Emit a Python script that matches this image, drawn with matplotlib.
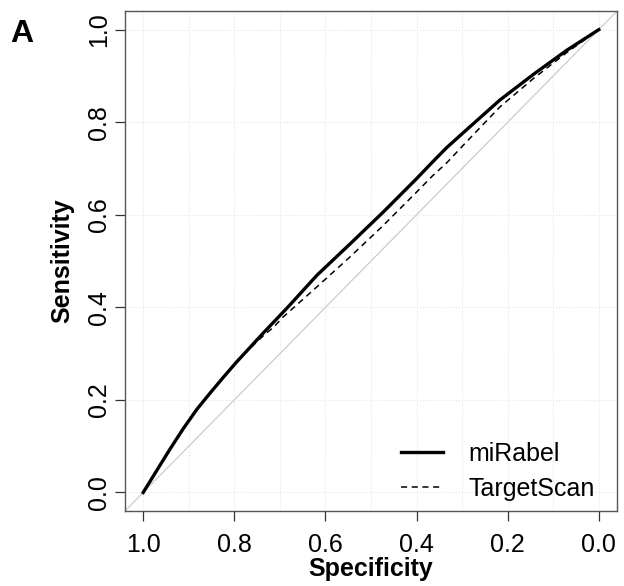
import matplotlib
matplotlib.use("Agg")
import matplotlib.pyplot as plt

plt.rcParams['font.family'] = ['Liberation Sans', 'DejaVu Sans']

# ROC curves (specificity, sensitivity)
mirabel_spec = [1.0, 0.970, 0.941, 0.912, 0.882, 0.853, 0.824, 0.795, 0.765, 0.736, 0.707, 0.681, 0.619,
                0.546, 0.473, 0.400, 0.364, 0.334, 0.291, 0.217, 0.144, 0.071, 0.0]
mirabel_sens = [0.0, 0.048, 0.094, 0.138, 0.180, 0.215, 0.249, 0.282, 0.314, 0.345, 0.375, 0.402, 0.469,
                0.537, 0.606, 0.678, 0.715, 0.745, 0.783, 0.848, 0.903, 0.955, 1.0]

targetscan_spec = [1.0, 0.970, 0.941, 0.912, 0.882, 0.853, 0.824, 0.795, 0.765, 0.736, 0.714, 0.693, 0.619,
                   0.546, 0.473, 0.400, 0.364, 0.334, 0.291, 0.217, 0.144, 0.071, 0.0]
targetscan_sens = [0.0, 0.048, 0.094, 0.138, 0.180, 0.215, 0.249, 0.282, 0.312, 0.339, 0.357, 0.379, 0.444,
                   0.509, 0.577, 0.649, 0.685, 0.712, 0.757, 0.833, 0.894, 0.950, 1.0]

ticks = [1.0, 0.8, 0.6, 0.4, 0.2, 0.0]
tick_labels = ["1.0", "0.8", "0.6", "0.4", "0.2", "0.0"]

fig = plt.figure(figsize=(6.24, 5.86), dpi=100)
ax = fig.add_axes([0.2003, 0.128, 0.7885, 0.853])

# grid: every 0.1 vertically, every 0.2 horizontally
for v in [i / 10 for i in range(11)]:
    ax.axvline(v, color="#e6e6e6", lw=0.8, ls=(0, (1, 1.5)), zorder=0)
for h in [i / 5 for i in range(6)]:
    ax.axhline(h, color="#e6e6e6", lw=0.8, ls=(0, (1, 1.5)), zorder=0)

ax.axline((1.0, 0.0), (0.0, 1.0), color="#cccccc", lw=0.9, zorder=1)

ax.plot(targetscan_spec, targetscan_sens, color="black", lw=1.1, ls=(0, (4, 3)), label="TargetScan", zorder=2)
ax.plot(mirabel_spec, mirabel_sens, color="black", lw=2.4, label="miRabel", zorder=3)

ax.set_xlim(1.04, -0.04)
ax.set_ylim(-0.04, 1.04)
ax.set_xticks(ticks)
ax.set_xticklabels(tick_labels)
ax.set_yticks(ticks)
ax.set_yticklabels(tick_labels, rotation=90, va="center")
ax.tick_params(axis="both", labelsize=18, length=7, width=0.9, color="#333333")
ax.tick_params(axis="x", pad=9)
ax.tick_params(axis="y", pad=3)
for s in ax.spines.values():
    s.set_color("#555555")
    s.set_linewidth(1.0)

ax.set_xlabel("Specificity", fontsize=18, fontweight="bold", labelpad=0)
ax.set_ylabel("Sensitivity", fontsize=18, fontweight="bold", labelpad=9)

handles, labels = ax.get_legend_handles_labels()
ax.legend(handles[::-1], labels[::-1], loc="lower right", frameon=False, fontsize=18,
          handlelength=1.7, handletextpad=1.0, labelspacing=0.45,
          bbox_to_anchor=(1.0, -0.025))

fig.text(0.016, 0.942, "A", fontsize=23, fontweight="bold", va="center", ha="left")

fig.savefig("out.png", dpi=100)
